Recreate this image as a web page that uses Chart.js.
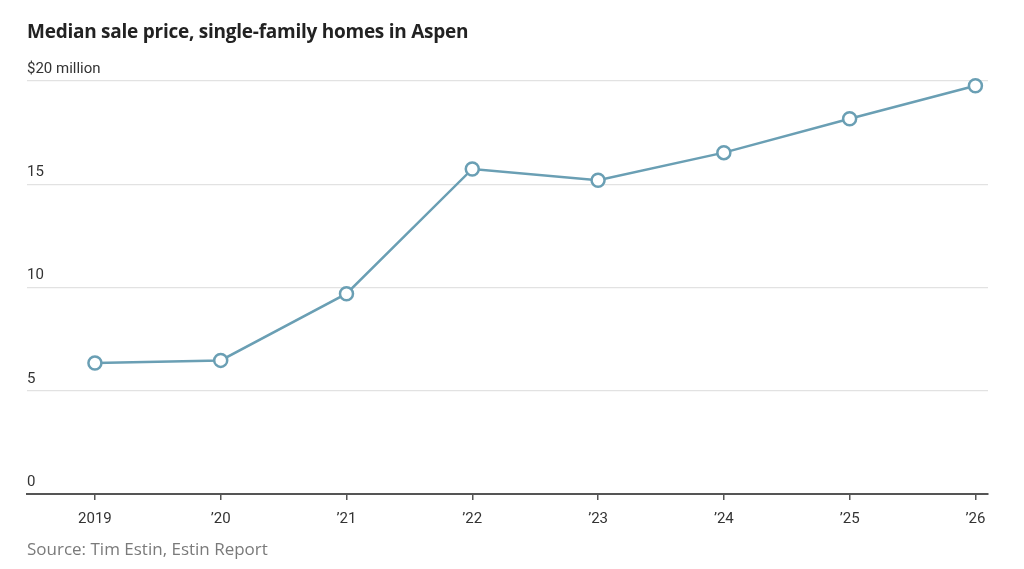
<!DOCTYPE html>
<html>
<head>
<meta charset="utf-8">
<script src="https://cdn.jsdelivr.net/npm/chart.js@4"></script>
<style>
  html, body { margin:0; padding:0; background:#fff; }
  #wrap { position:relative; width:1024px; height:569px; overflow:hidden; }
  #title { position:absolute; left:27px; top:18px; font:bold 19px 'Open Sans', sans-serif; color:#222; letter-spacing:-0.25px; }
  #source { position:absolute; left:27px; top:537px; font:17px 'Open Sans', sans-serif; color:#7a7a7a; }
  canvas { position:absolute; left:0; top:0; }
</style>
</head>
<body>
<div id="wrap">
  <canvas id="chart" width="1024" height="569"></canvas>
  <div id="title">Median sale price, single-family homes in Aspen</div>
  <div id="source">Source: Tim Estin, Estin Report</div>
</div>
<script>
// Median sale price, $ million
const YEARS = [2019, 2020, 2021, 2022, 2023, 2024, 2025, 2026];
const YEAR_LABELS = ['2019', '\u201920', '\u201921', '\u201922', '\u201923', '\u201924', '\u201925', '\u201926'];
const PRICES = [6.34, 6.47, 9.70, 15.74, 15.19, 16.53, 18.17, 19.77];
const Y_TICKS = [0, 5, 10, 15, 20];
const Y_LABELS = ['0', '5', '10', '15', '$20 million'];

const LINE = '#6a9fb4';
const GRID = '#e2e2e2';
const AXIS = '#555555';

const ctx = document.getElementById('chart');
new Chart(ctx, {
  type:'line',
  data:{
    datasets:[{
      data: YEARS.map((y,i) => ({ x:y, y:PRICES[i] })),
      borderColor: LINE, borderWidth: 2.5,
      pointRadius: 6.5, pointBorderWidth: 2.5,
      pointBackgroundColor:'#fff', pointBorderColor: LINE,
      tension: 0, clip: false,
    }]
  },
  options:{
    responsive:false, animation:false,
    layout:{ padding:{ left:27, right:36, top:81, bottom:0 } },
    plugins:{ legend:{ display:false }, tooltip:{ enabled:false } },
    scales:{
      x:{
        type:'linear', min:2018.46, max:2026.10,
        afterBuildTicks: s => { s.ticks = YEARS.map(v => ({ value:v })); },
        afterFit: s => { s.height = 75; },
        ticks:{
          callback: v => YEAR_LABELS[YEARS.indexOf(v)],
          color:'#333', font:{ family:'Roboto', size:15 }, padding:10, maxRotation:0, autoSkip:false,
        },
        grid:{ drawOnChartArea:false, drawTicks:true, tickLength:6, color:AXIS, lineWidth:1.5 },
        border:{ display:true, color:AXIS, width:2 },
      },
      y:{
        min:0, max:20,
        afterBuildTicks: s => { s.ticks = Y_TICKS.map(v => ({ value:v })); },
        afterFit: s => { s.width = 0; },
        ticks:{
          mirror:true, padding:0, labelOffset:-12,
          callback: v => Y_LABELS[Y_TICKS.indexOf(v)],
          color:'#333', font:{ family:'Roboto', size:15 },
        },
        grid:{ color: c => c.tick.value === 0 ? 'rgba(0,0,0,0)' : GRID, lineWidth:1.2, drawTicks:false },
        border:{ display:false },
      }
    }
  }
});
</script>
</body>
</html>
